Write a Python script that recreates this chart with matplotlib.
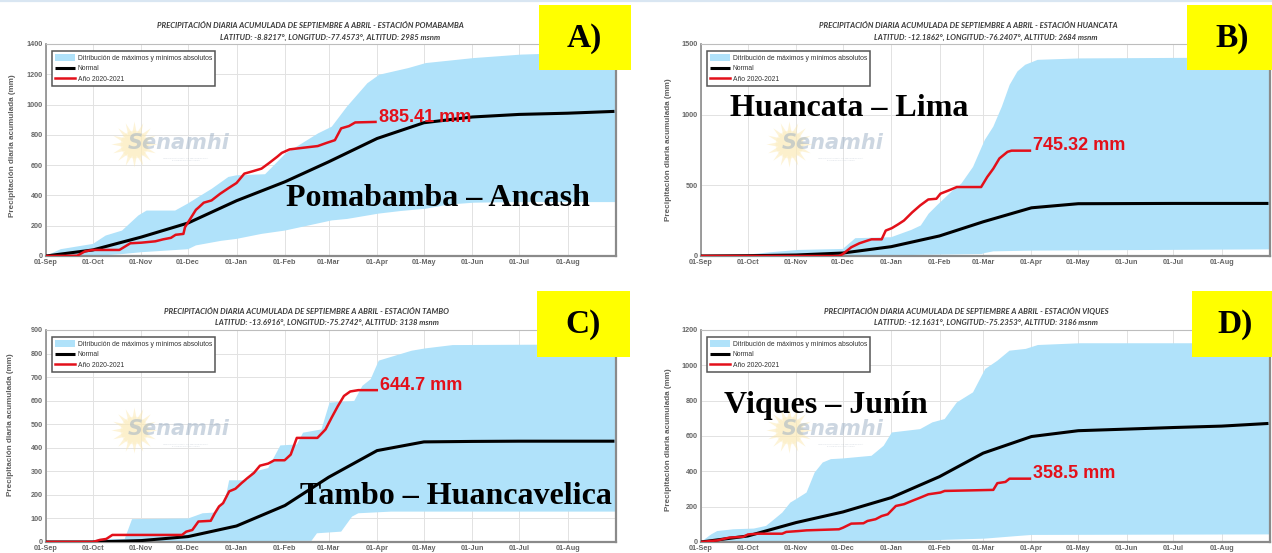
import matplotlib
matplotlib.use("Agg")
import matplotlib.pyplot as plt
from matplotlib.patches import Rectangle
from matplotlib.lines import Line2D

plt.rcParams['font.family'] = ['Liberation Sans', 'DejaVu Sans']

W, H = 1272, 553

# ---- shared time axis (days since 01-Sep) ----
month_days = [0, 30, 61, 91, 122, 153, 181, 212, 242, 273, 303, 334]
month_labels = ["01-Sep", "01-Oct", "01-Nov", "01-Dec", "01-Jan", "01-Feb",
                "01-Mar", "01-Apr", "01-May", "01-Jun", "01-Jul", "01-Aug"]
normal_days = month_days + [364]

# ---- Pomabamba - Ancash ----
pom_normal = [0, 40, 125, 218, 365, 490, 622, 776, 880, 918, 935, 943, 955]
pom_max_days = [0, 9.4, 30.1, 38.2, 48.7, 59.2, 64.4, 82.7, 90.6, 106.3, 116.8, 122, 140.3,
                153.4, 174.3, 183, 192.7, 205.8, 213.4, 232, 243.2, 273.8, 304.2, 334.6, 365]
pom_max = [0, 45, 80, 135, 168, 268, 300, 300, 345, 445, 522, 533, 540,
           677, 810, 854, 986, 1141, 1197, 1241, 1274, 1307, 1330, 1340, 1352]
pom_min_days = [0, 30, 49, 61, 91, 96, 112, 122, 138, 153, 183, 193, 213, 227, 243, 258, 274, 300, 365]
pom_min = [0, 0, 13, 25, 45, 70, 100, 113, 146, 168, 235, 245, 280, 297, 312, 340, 352, 356, 356]
pom_obs_days = [0, 20, 25, 30, 47, 54, 61, 70, 75, 80, 83, 88, 89, 91, 96, 98, 101, 106, 111.5,
                117, 122, 127, 132.5, 138, 143, 148, 151, 156, 164, 174, 180, 185, 189, 194, 198, 211]
pom_obs = [0, 2, 31, 40, 40, 84, 88, 97, 110, 120, 140, 146, 190, 223, 305, 323, 352, 367, 411,
           449, 482, 544, 560, 577, 615, 655, 681, 704, 714, 726, 748, 765, 843, 858, 882, 885.41]

# ---- Huancata - Lima ----
hua_normal = [0, 2, 7, 21, 66, 142, 242, 341, 370, 371, 372, 372, 372]
hua_max_days = [0, 30, 44, 62.5, 91, 99, 122, 125, 135, 141, 146, 152, 161.5, 167, 174.5,
                182, 187.5, 193, 198, 203, 208, 216, 243, 365]
hua_max = [0, 10, 26, 43, 50, 126, 133, 145, 185, 216, 299, 365, 464, 512, 630,
           820, 915, 1057, 1211, 1306, 1353, 1388, 1398, 1405]
hua_min_days = [0, 91, 122, 180, 182, 187.5, 212, 365]
hua_min = [0, 0, 5, 14, 21, 33, 38, 47]
hua_obs_days = [0, 88.5, 91, 96.4, 101.6, 106.8, 109.4, 115.9, 118.5, 122.4, 126.3, 130.2, 135.4,
                140.6, 145.8, 151, 153.6, 158.9, 164.1, 179.7, 183.6, 187.5, 191.4, 196.6, 199.2, 211]
hua_obs = [0, 0, 14, 62, 90, 109, 118, 118, 180, 197, 223, 251, 308,
           358, 400, 405, 441, 464, 488, 488, 559, 618, 690, 737, 745.32, 745.32]

# ---- Tambo - Huancavelica ----
tam_normal = [0, 0, 6, 23, 68, 155, 275, 388, 425, 427, 428, 428, 428]
tam_max_days = [0, 29.4, 33.3, 50.4, 55.1, 91.1, 100.3, 108.1, 114.7, 117.3, 129.1, 131.8, 142.3,
                150.1, 160.6, 164.6, 176.4, 181.6, 197.4, 202.6, 207.9, 213.1, 223.6, 234.1, 243, 260.4, 365]
tam_max = [0, 0, 13, 13, 97, 100, 122, 125, 179, 262, 262, 296, 314,
           410, 414, 464, 478, 592, 599, 663, 691, 770, 791, 812, 822, 836, 839]
tam_min_days = [0, 170, 173.5, 189, 196, 200, 221, 365]
tam_min = [0, 5, 37, 44, 108, 122, 129, 129]
tam_obs_days = [0, 29.9, 34.6, 38.6, 42.5, 87.1, 89.8, 93.7, 97.6, 105.5, 108.1, 110.8, 113.4, 117.3,
                121.3, 125.2, 129.1, 133.1, 137, 142.3, 146.2, 152.8, 156.7, 160.6, 173.8, 179, 182.9,
                186.9, 190.8, 194.8, 200, 211.8]
tam_obs = [0, 0, 9, 13, 30, 30, 44, 51, 87, 90, 122, 151, 165, 215,
           226, 250, 272, 293, 324, 333, 347, 347, 371, 442, 442, 478, 528,
           577, 620, 639, 644.7, 644.7]

# ---- Viques - Junín ----
viq_normal = [0, 34, 110, 170, 251, 370, 503, 597, 630, 639, 648, 656, 671]
viq_max_days = [0, 6.5, 10.4, 20.8, 33.9, 41.7, 46.9, 52.1, 57.3, 60.9, 67.7, 72.9, 78.1, 83.3, 91.1,
                109.4, 117.2, 122.4, 140.6, 148.4, 156.3, 164.1, 174.5, 182.3, 190.1, 197.9, 208.3,
                216.1, 243.2, 365]
viq_max = [0, 43, 62, 72, 76, 91, 128, 166, 223, 242, 280, 393, 450, 469, 473,
           488, 545, 620, 639, 677, 696, 790, 847, 979, 1026, 1083, 1093,
           1115, 1125, 1125]
viq_min_days = [0, 140.6, 181.8, 203.1, 212.2, 365]
viq_min = [0, 8, 19, 34, 40, 43]
viq_obs_days = [0, 10.4, 18.2, 27.3, 30.2, 36.5, 52.1, 54.7, 62.5, 67.7, 88.5, 91.1, 96.4, 104.2,
                106.8, 112, 115.9, 119.8, 125, 130.2, 135.4, 140.6, 145.8, 153.6, 156.3, 187.5,
                190.1, 195.3, 197.9, 211]
viq_obs = [0, 9, 25, 30, 43, 47, 47, 57, 62, 66, 72, 81, 104, 106,
           119, 129, 147, 157, 204, 214, 233, 251, 270, 280, 289, 295,
           333, 340, 358.5, 358.5]

titles = ["ESTACIÓN POMABAMBA", "ESTACIÓN HUANCATA", "ESTACIÓN TAMBO", "ESTACIÓN VIQUES"]
coords = ["LATITUD: -8.8217°, LONGITUD:-77.4573°, ALTITUD: 2985 msnm",
          "LATITUD: -12.1862°, LONGITUD:-76.2407°, ALTITUD: 2684 msnm",
          "LATITUD: -13.6916°, LONGITUD:-75.2742°, ALTITUD: 3138 msnm",
          "LATITUD: -12.1631°, LONGITUD:-75.2353°, ALTITUD: 3186 msnm"]
places = ["Pomabamba – Ancash", "Huancata – Lima", "Tambo – Huancavelica", "Viques – Junín"]
panel_tags = ["A)", "B)", "C)", "D)"]
y_max = [1400, 1500, 900, 1200]
y_step = [200, 500, 100, 200]

series = [
    (pom_normal, pom_max_days, pom_max, pom_min_days, pom_min, pom_obs_days, pom_obs),
    (hua_normal, hua_max_days, hua_max, hua_min_days, hua_min, hua_obs_days, hua_obs),
    (tam_normal, tam_max_days, tam_max, tam_min_days, tam_min, tam_obs_days, tam_obs),
    (viq_normal, viq_max_days, viq_max, viq_min_days, viq_min, viq_obs_days, viq_obs),
]

# ---- layout in pixels ----
axes_px = [(46, 44, 616, 256), (701, 44, 1270, 256), (46, 330, 616, 542), (701, 330, 1270, 542)]
title_px = [((310, 26), (330, 37.5)), ((968, 26), (986, 37.5)),
            ((306, 311), (327, 322.5)), ((966, 311), (986, 322.5))]
ylabel_px = [(13, 146), (668, 150), (11, 425), (668, 440)]
place_px = [(438, 199), (849, 108), (456, 496), (826, 406)]
tag_box_px = [(539, 5, 631, 70), (1187, 5, 1272, 70), (537, 291, 630, 357), (1192, 291, 1272, 357)]
tag_px = [(584, 39), (1232, 39), (583, 325), (1235, 325)]

BAND = '#b0e2fa'
RED = '#e3101a'
GRAY = '#5f5f5f'


def fx(x):
    return x / W


def fy(y):
    return 1 - y / H


fig = plt.figure(figsize=(W / 100, H / 100), dpi=100)
fig.patch.set_facecolor('white')
fig.add_artist(Line2D([0, 1], [fy(1.2), fy(1.2)], transform=fig.transFigure,
                      color='#d9e6f2', lw=1.6))

for i in range(4):
    normal, up_d, up_v, lo_d, lo_v, ob_d, ob_v = series[i]
    l, t, r, b = axes_px[i]
    ax = fig.add_axes([fx(l), fy(b), (r - l) / W, (b - t) / H])
    ax.set_xlim(0, 365)
    ax.set_ylim(0, y_max[i])

    band = ax.fill(list(up_d) + list(lo_d)[::-1], list(up_v) + list(lo_v)[::-1],
                   color=BAND, lw=0, zorder=1,
                   label='Ditribución de máximos y mínimos absolutos')[0]
    nline, = ax.plot(normal_days, normal, color='black', lw=2.2, zorder=3,
                     solid_capstyle='butt', label='Normal')
    oline, = ax.plot(ob_d, ob_v, color=RED, lw=1.8, zorder=4, label='Año 2020-2021')
    ax.annotate(f"{ob_v[-1]:g} mm", xy=(ob_d[-1], ob_v[-1]), xytext=(2.5, 3.5),
                textcoords='offset points', ha='left', va='center', color=RED,
                fontsize=13, fontweight='bold', zorder=6)

    # faint institutional watermark
    ax.plot([0.154], [0.53], marker=(16, 1, 0), ms=33, color='#fbe6a8', alpha=0.45,
            mec='none', transform=ax.transAxes, zorder=2)
    ax.plot([0.154], [0.53], marker='o', ms=20, color='#fcedc0', alpha=0.45,
            mec='none', transform=ax.transAxes, zorder=2)
    ax.text(0.232, 0.535, 'Senamhi', transform=ax.transAxes, ha='center', va='center',
            fontsize=15, fontweight='bold', style='italic', color='#9aaec4', alpha=0.5,
            family='DejaVu Sans', zorder=2)
    ax.text(0.245, 0.455, 'SERVICIO NACIONAL DE METEOROLOGÍA\nE HIDROLOGÍA DEL PERÚ',
            transform=ax.transAxes, ha='center', va='center', fontsize=1.6,
            color='#c0c8d2', alpha=0.7, zorder=2, linespacing=1.2)

    ax.set_xticks(month_days)
    ax.set_xticklabels(month_labels)
    ax.set_yticks(range(0, y_max[i] + 1, y_step[i]))
    ax.tick_params(length=0, pad=2.5, labelsize=5.2, labelcolor='#666666')
    for lbl in ax.get_xticklabels() + ax.get_yticklabels():
        lbl.set_fontweight('bold')
    ax.grid(True, color='#e2e2e2', lw=0.7)
    ax.set_axisbelow(True)
    ax.spines['top'].set_color('#bdbdbd')
    ax.spines['top'].set_linewidth(0.8)
    ax.spines['left'].set_color('#8c8c8c')
    ax.spines['left'].set_linewidth(1.2)
    for side in ('bottom', 'right'):
        ax.spines[side].set_color('#8a8a8a')
        ax.spines[side].set_linewidth(1.6)

    leg = ax.legend(handles=[band, nline, oline], loc='upper left',
                    bbox_to_anchor=(0.0105, 0.967), borderaxespad=0, fontsize=4.9,
                    handlelength=3.0, handleheight=1.2, handletextpad=0.35,
                    labelspacing=0.42, borderpad=0.45, fancybox=False, framealpha=1)
    leg.get_frame().set_edgecolor('#555555')
    leg.get_frame().set_linewidth(1.1)
    leg.set_zorder(7)
    for txt in leg.get_texts():
        txt.set_color('#333333')

    (t1x, t1y), (t2x, t2y) = title_px[i]
    fig.text(fx(t1x), fy(t1y),
             "PRECIPITACIÓN DIARIA ACUMULADA DE SEPTIEMBRE A ABRIL - " + titles[i],
             ha='center', va='center', fontsize=5.6, fontweight='bold', style='italic',
             color='#3a3a3a', family='Lato')
    fig.text(fx(t2x), fy(t2y), coords[i], ha='center', va='center', fontsize=5.6,
             fontweight='bold', style='italic', color='#3a3a3a', family='Lato')

    yx, yy = ylabel_px[i]
    fig.text(fx(yx), fy(yy), 'Precipitación diaria acumulada (mm)', rotation=90,
             ha='center', va='center', fontsize=5.9, fontweight='bold', color=GRAY)

    px, py = place_px[i]
    fig.text(fx(px), fy(py), places[i], ha='center', va='center', fontsize=23,
             fontweight='bold', family='Liberation Serif', color='black', zorder=8)

    bl, bt, br, bb = tag_box_px[i]
    fig.add_artist(Rectangle((fx(bl), fy(bb)), (br - bl) / W, (bb - bt) / H,
                             transform=fig.transFigure, facecolor='#ffff00',
                             edgecolor='none', zorder=9))
    tx, ty = tag_px[i]
    fig.text(fx(tx), fy(ty), panel_tags[i], ha='center', va='center', fontsize=24,
             fontweight='bold', family='Liberation Serif', color='black', zorder=10)

fig.savefig('out.png', dpi=100, facecolor='white')
